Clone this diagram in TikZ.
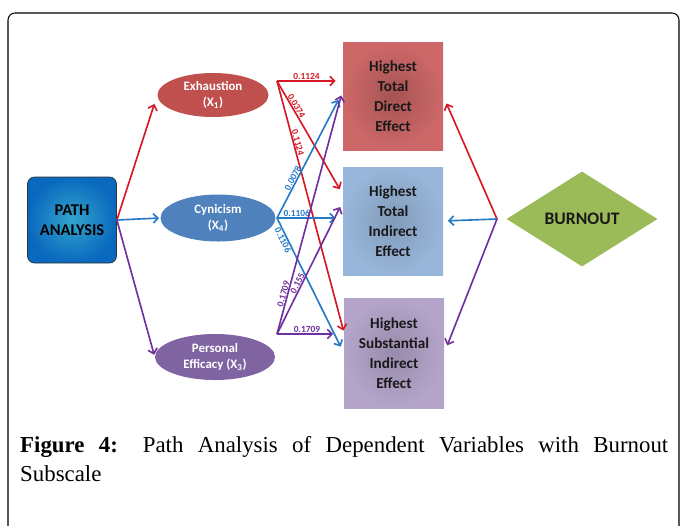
\documentclass[tikz,border=0pt]{standalone}
\usepackage{fontspec}
\setmainfont{Liberation Serif}
\newfontfamily\calib{Carlito}
\usepackage{xcolor}
\usepackage{tikz}
\usetikzlibrary{shapes,arrows,positioning,shapes.geometric,calc,arrows.meta}

\definecolor{exred}{RGB}{192,80,77}
\definecolor{cyblue}{RGB}{79,129,189}
\definecolor{efpurple}{RGB}{128,100,162}
\definecolor{linered}{RGB}{214,24,36}
\definecolor{lineblue}{RGB}{36,122,196}
\definecolor{linepurple}{RGB}{112,48,160}
\definecolor{boxred}{RGB}{206,104,104}
\definecolor{boxblue}{RGB}{152,182,218}
\definecolor{boxpurple}{RGB}{180,164,202}
\definecolor{burngreen}{RGB}{155,187,89}

\begin{document}
\begin{tikzpicture}[x=0.03cm, y=-0.03cm,
        var/.style={ellipse, inner sep=0pt, text=white, align=center,
            font=\calib\bfseries\fontsize{11}{13}\selectfont},
        effect/.style={rectangle, minimum width=3cm, minimum height=3.24cm, align=center,
            text=black!90, font=\calib\bfseries\fontsize{13}{17}\selectfont},
        link/.style={-{Straight Barb[length=4pt,width=8pt]}, line width=1.4pt},
        coef/.style={sloped, above, inner sep=0.3pt, font=\calib\bfseries\fontsize{8}{8}\selectfont}
    ]

        \useasboundingbox (0,0) rectangle (680,525);
        \clip (0,0) rectangle (680,525);
        \draw[line width=0.9pt, rounded corners=6pt] (8,540) -- (8,13) -- (679,13) -- (679,540);

        % sources
        \node[rectangle, rounded corners=6pt, draw=black!80, line width=0.6pt,
              inner color={rgb,255:red,50;green,165;blue,205}, outer color={rgb,255:red,10;green,105;blue,190},
              minimum width=2.67cm, minimum height=2.58cm, align=center,
              font=\calib\bfseries\fontsize{14}{17}\selectfont] (pa) at (72,220) {PATH\\ANALYSIS};

        \node[var, fill=exred, minimum width=3.33cm, minimum height=1.32cm] (ex) at (213,95) {Exhaustion\\(X\textsubscript{1})};
        \node[var, fill=cyblue, minimum width=3.45cm, minimum height=1.41cm] (cy) at (218,218) {Cynicism\\(X\textsubscript{4})};
        \node[var, fill=efpurple, minimum width=3.6cm, minimum height=1.38cm] (ef) at (215,357) {Personal\\Efficacy (X\textsubscript{3})};

        % effects
        \node[effect, inner color=boxred!80!black, outer color=boxred] (rb) at (393,96) {Highest\\Total\\Direct\\Effect};
        \node[effect, inner color=boxblue!85!black, outer color=boxblue] (bb) at (393,221) {Highest\\Total\\Indirect\\Effect};
        \node[effect, inner color=boxpurple!85!black, outer color=boxpurple, minimum height=3.3cm] (pb) at (394,353) {Highest\\Substantial\\Indirect\\Effect};

        \node[diamond, fill=burngreen, inner sep=0pt, minimum width=4.53cm, minimum height=2.85cm,
              font=\calib\bfseries\fontsize{15}{17}\selectfont, text=black!90] (bo) at (582,219) {BURNOUT};

        \coordinate (exo) at (277,81);
        \coordinate (cyo) at (277,218);
        \coordinate (efo) at (277,334);
        \coordinate (bsrc) at (497,219);

        \draw[link, linered, shorten >=8pt] (pa.east) -- (ex.west);
        \draw[link, lineblue, shorten >=1pt] (pa.east) -- (cy.west);
        \draw[link, linepurple, shorten >=2pt] (pa.east) -- (ef.west);

        % path coefficients
        \draw[link, linered, shorten >=6pt] (exo) -- (exo -| rb.west) node[coef, pos=0.45, linered] {0.1124};
        \draw[link, linered, shorten >=5pt] (exo) -- (bb.152) node[coef, pos=0.24, linered] {0.0374};
        \draw[link, linered, shorten >=1pt] (exo) -- (pb.157) node[coef, pos=0.25, linered] {0.1124};

        \draw[link, lineblue, shorten >=8pt] (cyo) -- (rb.175) node[coef, pos=0.3, lineblue] {0.0078};
        \draw[link, lineblue, shorten >=6pt] (cyo) -- (cyo -| bb.west) node[coef, pos=0.3, lineblue] {0.1106};
        \draw[link, lineblue, shorten >=6pt] (cyo) -- (pb.west) node[coef, below, pos=0.15, lineblue] {0.1106};

        \draw[link, linepurple, shorten >=5pt] (efo) -- (rb.173) node[coef, pos=0.16, linepurple] {0.1709};
        \draw[link, linepurple, shorten >=5pt] (efo) -- (bb.159) node[coef, pos=0.37, linepurple] {0.155};
        \draw[link, linepurple, shorten >=9pt] (efo) -- (efo -| pb.west) node[coef, pos=0.45, linepurple] {0.1709};

        \draw[link, linered, shorten >=7pt] (bsrc) -- (rb.east);
        \draw[link, lineblue, shorten >=4pt] (bsrc) -- (bb.east);
        \draw[link, linepurple, shorten >=7pt] (bsrc) -- (pb.east);

        \node[anchor=north west, inner sep=0pt, text width=19.44cm, align=justify,
              font=\fontsize{19.5}{24.5}\selectfont] (cap) at (20,436)
              {\textbf{Figure 4:} Path Analysis of Dependent Variables with Burnout\linebreak Subscale};
\end{tikzpicture}
\end{document}
